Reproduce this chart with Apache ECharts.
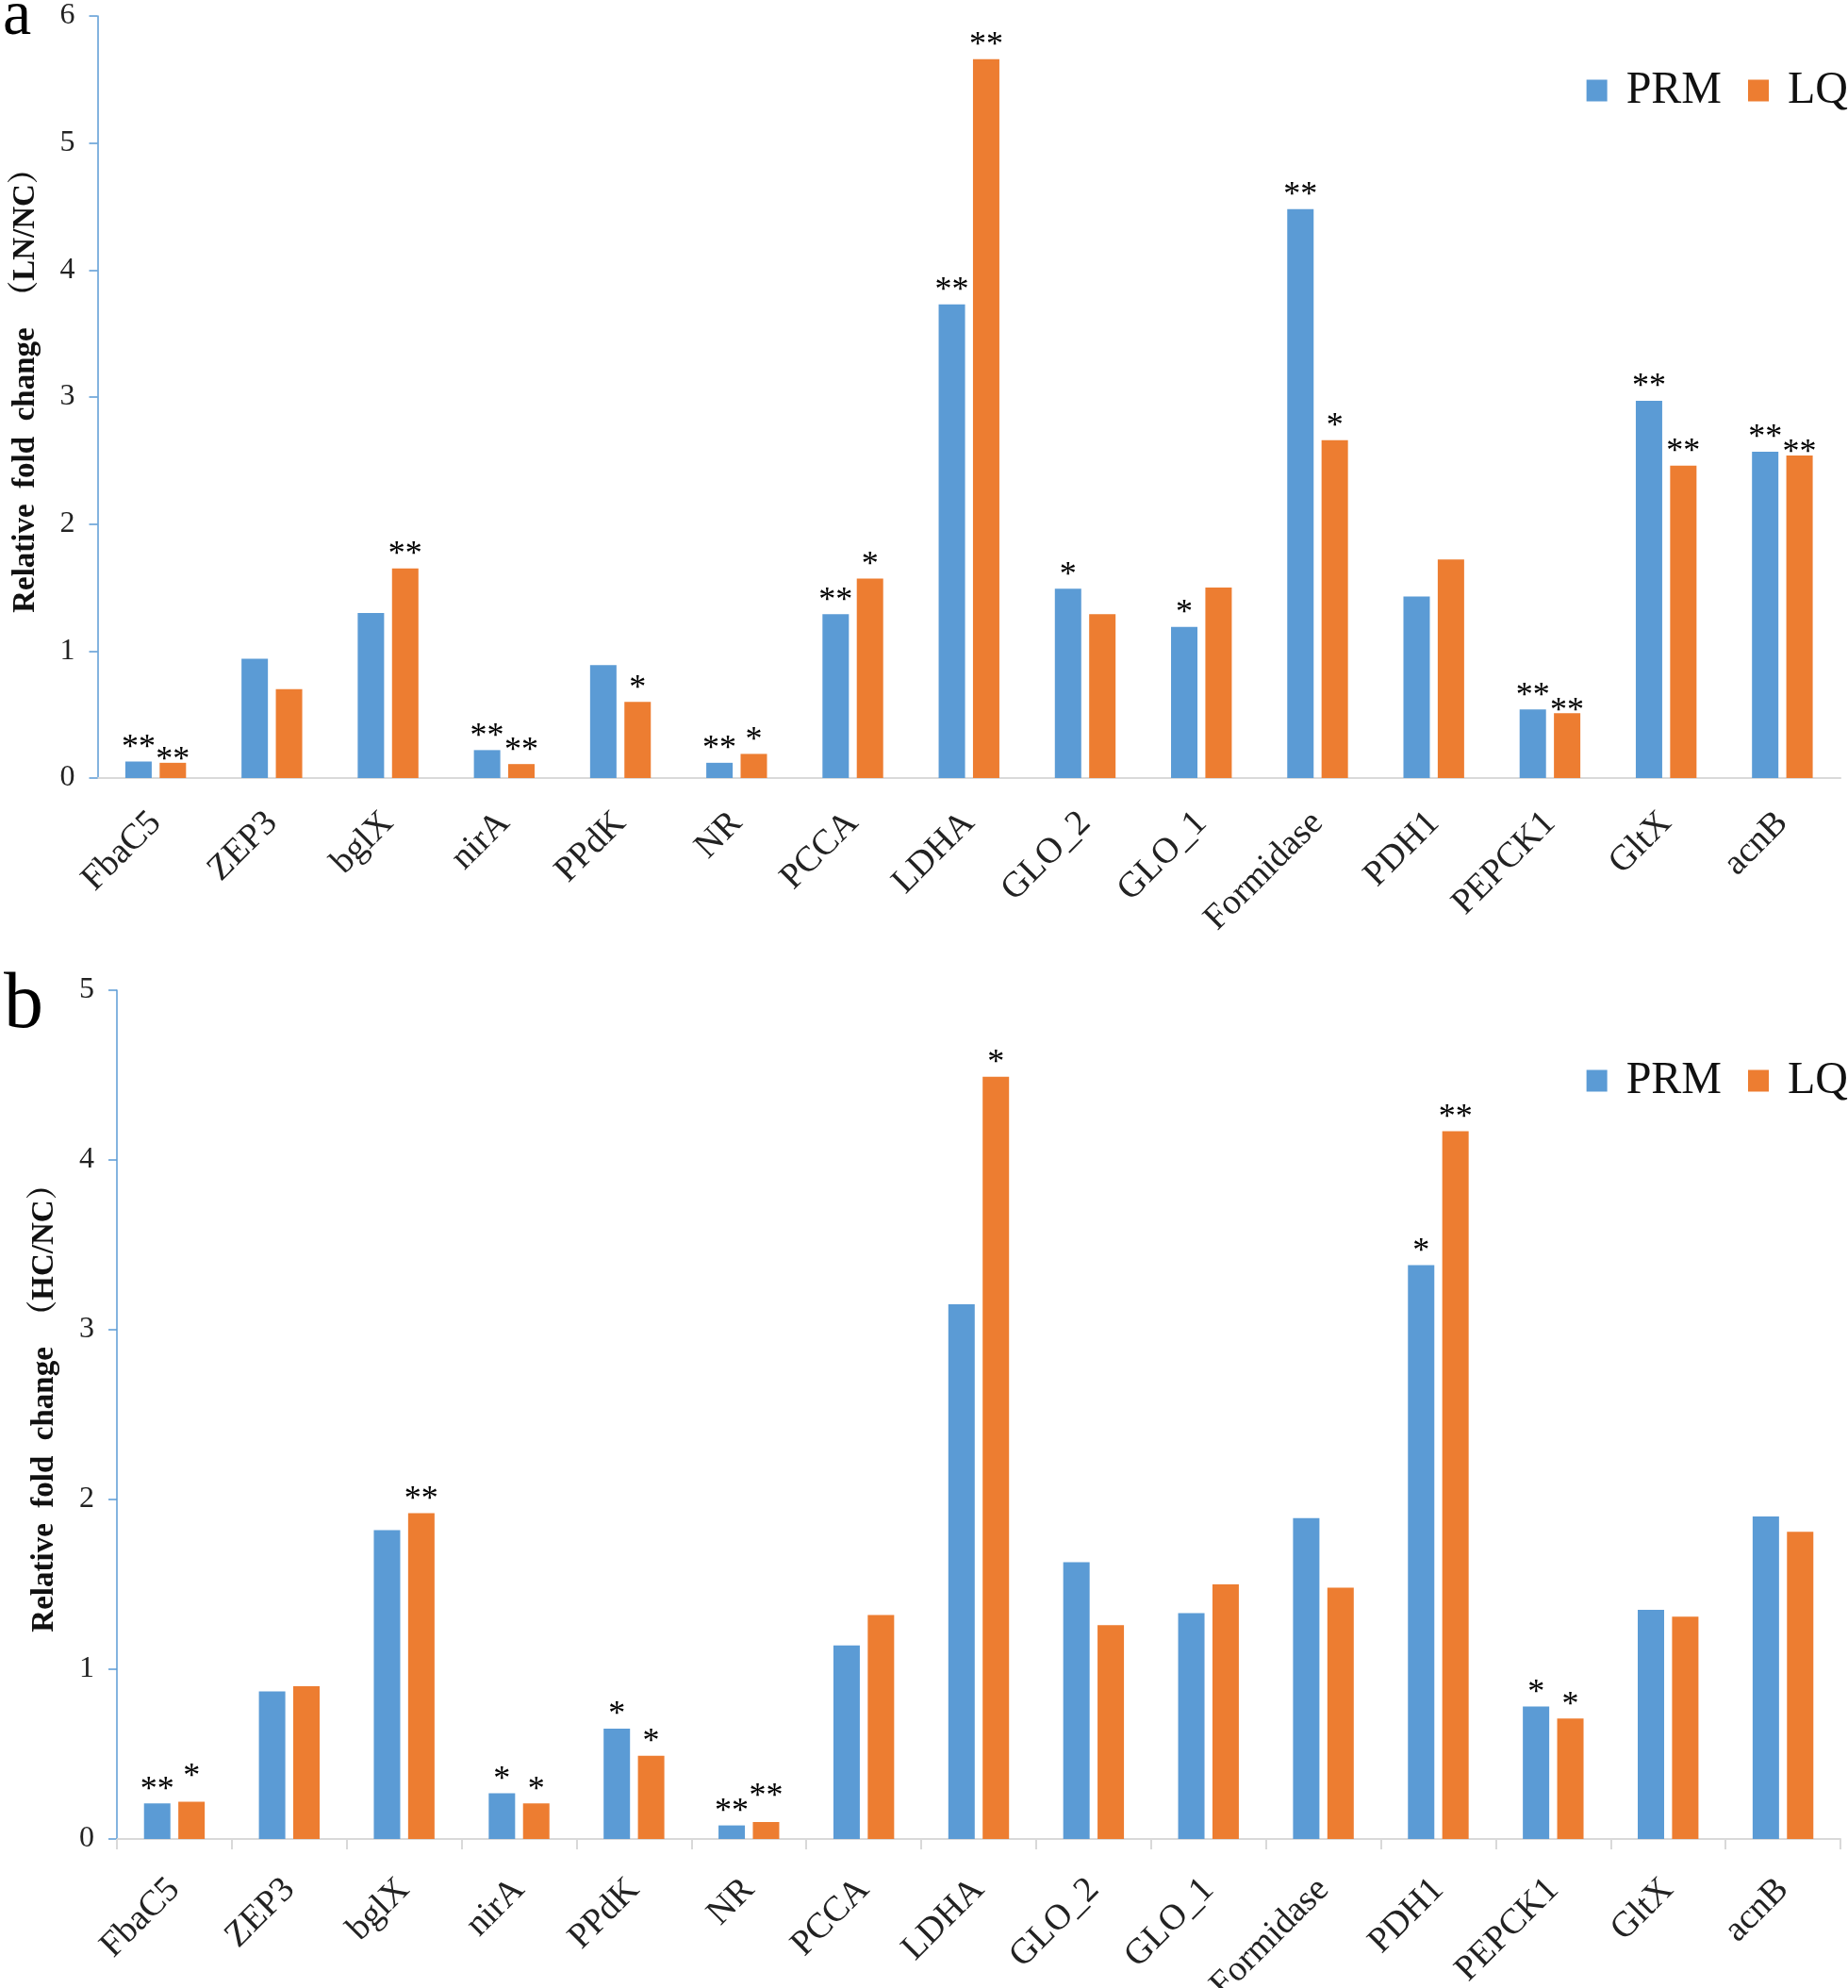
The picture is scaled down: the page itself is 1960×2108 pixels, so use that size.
<!DOCTYPE html>
<html>
<head>
<meta charset="utf-8">
<script src="https://cdn.jsdelivr.net/npm/echarts@6/dist/echarts.min.js"></script>
<style>
html,body{margin:0;padding:0;background:#fff;}
#c{width:1960px;height:2108px;}
</style>
</head>
<body>
<div id="c"></div>
<script>
const categories = ['FbaC5','ZEP3','bglX','nirA','PPdK','NR','PCCA','LDHA','GLO_2','GLO_1','Formidase','PDH1','PEPCK1','GltX','acnB'];
const seriesNames = ['PRM','LQ'];

// Panel a (LN/NC)
const prmA = [0.13,0.94,1.30,0.22,0.89,0.12,1.29,3.73,1.49,1.19,4.48,1.43,0.54,2.97,2.57];
const lqA  = [0.12,0.70,1.65,0.11,0.60,0.19,1.57,5.66,1.29,1.50,2.66,1.72,0.51,2.46,2.54];
const prmSigA = ['**','','','**','','**','**','**','*','*','**','','**','**','**'];
const lqSigA  = ['**','','**','**','*','*','*','**','','','*','','**','**','**'];

// Panel b (HC/NC)
const prmB = [0.21,0.87,1.82,0.27,0.65,0.08,1.14,3.15,1.63,1.33,1.89,3.38,0.78,1.35,1.90];
const lqB  = [0.22,0.90,1.92,0.21,0.49,0.10,1.32,4.49,1.26,1.50,1.48,4.17,0.71,1.31,1.81];
const prmSigB = ['**','','','*','*','**','','','','','','*','*','',''];
const lqSigB  = ['*','','**','*','*','**','','*','','','','**','*','',''];

const yMaxA = 6, yMaxB = 5;
const yTitleA = 'Relative  fold  change  （LN/NC）';
const yTitleB = 'Relative  fold  change  （HC/NC）';

const SERIF = "'Liberation Serif','Times New Roman','Noto Serif CJK SC','Noto Sans CJK SC',serif";
const BLUE = '#5B9BD5', ORANGE = '#ED7D31';

const chart = echarts.init(document.getElementById('c'), null, {renderer:'canvas'});

function yAxis(gi, max, title, gap){
  return {
    type:'value', gridIndex:gi, min:0, max:max, interval:1,
    axisLine:{show:true, lineStyle:{color:BLUE, width:1.5}},
    axisTick:{show:true, length:9, lineStyle:{color:BLUE, width:1.5}},
    splitLine:{show:false},
    axisLabel:{fontFamily:SERIF, fontSize:32, color:'#222', margin:24},
    name:title, nameLocation:'middle', nameGap:gap,
    nameTextStyle:{fontFamily:SERIF, fontWeight:'bold', fontSize:33, color:'#111', padding:[0,0,0,30]}
  };
}
function xAxis(gi, ticks, margin){
  return {
    type:'category', gridIndex:gi, data:categories,
    axisLine:{show:true, lineStyle:{color:'#d9d9d9', width:2}},
    axisTick:{show:ticks, length:11, alignWithLabel:false, lineStyle:{color:'#d9d9d9', width:2}},
    axisLabel:{rotate:45, interval:0, fontFamily:SERIF, fontSize:38, color:'#222', margin:margin}
  };
}
// separate adjacent star labels vertically when both bars of a pair are nearly equal
function pairLayout(own, other, ownSig, otherSig){
  return function(p){
    const i = p.dataIndex;
    if (ownSig[i] && otherSig[i] && Math.abs(own[i]-other[i]) < 0.06) {
      return {dy: own[i] > other[i] ? -12 : 12};
    }
    return {};
  };
}
function barSeries(name, xi, data, sig, color, layout){
  const s = {
    type:'bar', name:name, xAxisIndex:xi, yAxisIndex:xi, data:data,
    barWidth:28, barGap:'30%',
    itemStyle:{color:color},
    label:{show:true, position:'top', distance:-4, fontFamily:SERIF, fontSize:36, color:'#000',
      formatter:function(p){ return sig[p.dataIndex]; }},
    emphasis:{disabled:true}
  };
  if (layout) s.labelLayout = layout;
  return s;
}

const option = {
  animation:false,
  backgroundColor:'#fff',
  grid:[
    {left:103.5, top:17, width:1848.5, height:808, containLabel:false, outerBoundsMode:'none'},
    {left:124, top:1050, width:1828, height:900, containLabel:false, outerBoundsMode:'none'}
  ],
  legend:[
    {data:seriesNames, orient:'horizontal', right:0, top:72, padding:0, itemWidth:22, itemHeight:23, itemGap:28, icon:'rect',
     textStyle:{fontFamily:SERIF, fontSize:48, color:'#111', padding:[0,0,0,15]}},
    {data:seriesNames, orient:'horizontal', right:0, top:1122, padding:0, itemWidth:22, itemHeight:23, itemGap:28, icon:'rect',
     textStyle:{fontFamily:SERIF, fontSize:48, color:'#111', padding:[0,0,0,15]}}
  ],
  xAxis:[xAxis(0,false,42), xAxis(1,true,48)],
  yAxis:[yAxis(0,yMaxA,yTitleA,60), yAxis(1,yMaxB,yTitleB,60)],
  series:[
    barSeries('PRM',0,prmA,prmSigA,BLUE),
    barSeries('LQ',0,lqA,lqSigA,ORANGE,pairLayout(lqA,prmA,lqSigA,prmSigA)),
    barSeries('PRM',1,prmB,prmSigB,BLUE),
    barSeries('LQ',1,lqB,lqSigB,ORANGE,pairLayout(lqB,prmB,lqSigB,prmSigB))
  ],
  graphic:[
    {type:'text', left:3, top:-16, style:{text:'a', font:"68px 'Liberation Serif', serif", fill:'#000'}},
    {type:'text', left:4, top:1025, style:{text:'b', font:"84px 'Liberation Serif', serif", fill:'#000'}}
  ]
};
chart.setOption(option);
</script>
</body>
</html>
